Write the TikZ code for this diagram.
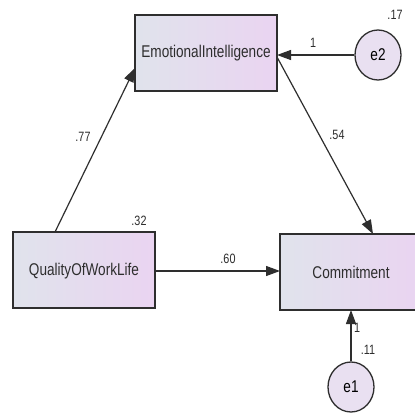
\documentclass[tikz,border=0pt]{standalone}
\usepackage{fontspec}
\setmainfont{Liberation Sans}
\usetikzlibrary{arrows.meta,shapes.geometric}
\definecolor{boxL}{HTML}{E0E3EC}
\definecolor{boxR}{HTML}{EAD4F1}
\definecolor{ellF}{HTML}{E9E0F1}
\definecolor{ink}{HTML}{2E2E2E}
\newcommand{\bt}[1]{\scalebox{0.8}[1]{\fontsize{17}{18}\selectfont #1}}
\newcommand{\st}[1]{\scalebox{0.8}[1]{\fontsize{13.5}{14}\selectfont #1}}
\begin{document}
\begin{tikzpicture}[x=1pt,y=-1pt,
  varbox/.style={draw=ink,line width=1.3pt,left color=boxL,right color=boxR},
  errell/.style={draw=ink,line width=1.3pt,fill=ellF},
  path/.style={draw=ink,line width=1.2pt,-{Triangle[length=14pt,width=10pt]}},
  lbl/.style={text=ink,inner sep=0pt},
  btxt/.style={text=ink,inner sep=0pt}]
\clip (0,0) rectangle (415,415);
\fill[white] (0,0) rectangle (415,415);
% boxes
\draw[varbox] (135,15) rectangle (277,91);
\node[btxt] (ei) at (206,53) {\bt{EmotionalIntelligence}};
\draw[varbox] (13,232) rectangle (155,308);
\node[btxt] (qwl) at (84,271) {\bt{QualityOfWorkLife}};
\draw[varbox] (280,234) rectangle (420,310);
\node[btxt] (com) at (351,272) {\bt{Commitment}};
% error terms
\node[errell,ellipse,minimum width=46pt,minimum height=50pt,inner sep=0pt] (e2) at (378,55) {\bt{e2}};
\node[errell,ellipse,minimum width=46pt,minimum height=50pt,inner sep=0pt] (e1) at (351,387) {\bt{e1}};
% anchor coordinates
\coordinate (qwlTop) at (55,232);
\coordinate (eiLeft) at (135,68);
\coordinate (eiRight) at (277,57);
\coordinate (comTop) at (373,234);
\coordinate (qwlRight) at (155,271);
\coordinate (comLeft) at (280,271);
\coordinate (eiR2) at (277,55);
\coordinate (comBot) at (351,310);
% paths
\draw[path] (qwlTop) -- (eiLeft);
\draw[path] (eiRight) -- (comTop);
\draw[path] (qwlRight) -- (comLeft);
\draw[path] (e2.west) -- (eiR2);
\draw[path] (e1.north) -- (comBot);
% labels
\node[lbl] (l77) at (83,137) {\st{.77}};
\node[lbl] (l54) at (337,135) {\st{.54}};
\node[lbl] (l60) at (228,259) {\st{.60}};
\node[lbl] (l32) at (139,221) {\st{.32}};
\node[lbl] (l17) at (395,15) {\st{.17}};
\node[lbl] (l1a) at (313,43) {\st{1}};
\node[lbl] (l1b) at (357,328) {\st{1}};
\node[lbl] (l11) at (368,350) {\st{.11}};
\end{tikzpicture}
\end{document}
